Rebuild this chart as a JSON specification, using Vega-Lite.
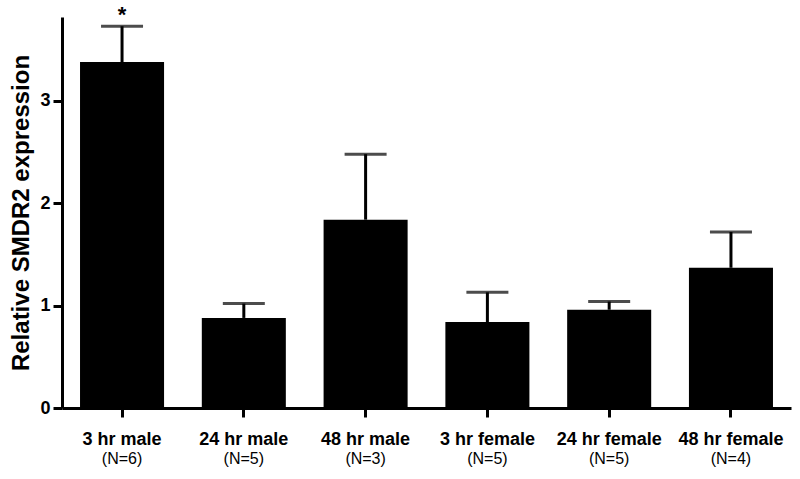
{
  "$schema": "https://vega.github.io/schema/vega-lite/v6.json",
  "autosize": "none",
  "width": 729,
  "height": 391,
  "padding": {"left": 62, "top": 17, "right": 9, "bottom": 71},
  "background": "white",
  "config": {
    "view": {"stroke": null},
    "font": "Liberation Sans"
  },
  "data": {
    "values": [
      {"group": "3 hr male", "n": "(N=6)", "mean": 3.38, "upper": 3.73, "star": "*"},
      {"group": "24 hr male", "n": "(N=5)", "mean": 0.88, "upper": 1.02, "star": ""},
      {"group": "48 hr male", "n": "(N=3)", "mean": 1.84, "upper": 2.48, "star": ""},
      {"group": "3 hr female", "n": "(N=5)", "mean": 0.84, "upper": 1.13, "star": ""},
      {"group": "24 hr female", "n": "(N=5)", "mean": 0.96, "upper": 1.04, "star": ""},
      {"group": "48 hr female", "n": "(N=4)", "mean": 1.37, "upper": 1.72, "star": ""}
    ]
  },
  "encoding": {
    "x": {
      "field": "group",
      "type": "nominal",
      "sort": null,
      "scale": {"paddingInner": 0.31, "paddingOuter": 0.148},
      "axis": {
        "title": null,
        "labelAngle": 0,
        "labelFont": "Liberation Sans",
        "labelFontWeight": "bold",
        "labelFontSize": 18,
        "labelColor": "black",
        "labelPadding": 13,
        "tickSize": 9,
        "tickWidth": 3,
        "tickColor": "black",
        "domainWidth": 3,
        "domainColor": "black",
        "grid": false
      }
    }
  },
  "layer": [
    {
      "mark": {"type": "bar", "color": "black"},
      "encoding": {
        "y": {
          "field": "mean",
          "type": "quantitative",
          "scale": {"domain": [0, 3.82], "nice": false},
          "axis": {
            "title": "Relative SMDR2 expression",
            "titleFont": "Liberation Sans",
            "titleFontWeight": "bold",
            "titleFontSize": 24,
            "titleColor": "black",
            "titlePadding": 6,
            "values": [0, 1, 2, 3],
            "format": "d",
            "labelFont": "Liberation Sans",
            "labelFontWeight": "bold",
            "labelFontSize": 18,
            "labelColor": "black",
            "labelPadding": 3,
            "tickSize": 9,
            "tickWidth": 3,
            "tickColor": "black",
            "domainWidth": 3,
            "domainColor": "black",
            "grid": false
          }
        }
      }
    },
    {
      "mark": {"type": "rule", "color": "black", "strokeWidth": 3},
      "encoding": {
        "y": {"field": "mean", "type": "quantitative"},
        "y2": {"field": "upper"}
      }
    },
    {
      "mark": {"type": "tick", "color": "black", "thickness": 3, "size": 42, "orient": "horizontal"},
      "encoding": {
        "y": {"field": "upper", "type": "quantitative"}
      }
    },
    {
      "mark": {"type": "text", "color": "black", "fontSize": 22, "fontWeight": "bold", "font": "Liberation Sans", "baseline": "bottom", "dy": 1},
      "encoding": {
        "y": {"field": "upper", "type": "quantitative"},
        "text": {"field": "star"}
      }
    },
    {
      "mark": {"type": "text", "color": "black", "fontSize": 16, "font": "Liberation Sans", "baseline": "middle", "dy": 51},
      "encoding": {
        "y": {"datum": 0, "type": "quantitative"},
        "text": {"field": "n"}
      }
    }
  ]
}
